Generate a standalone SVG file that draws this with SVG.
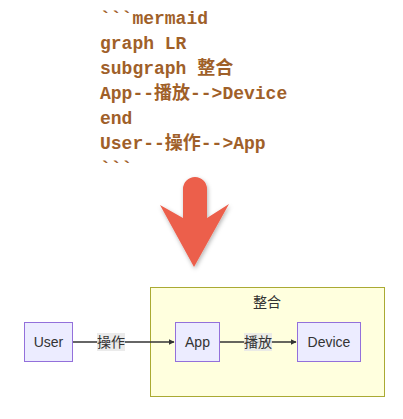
<svg xmlns="http://www.w3.org/2000/svg" width="403" height="419" viewBox="0 0 403 419">
<style>
.code{font-family:"Liberation Mono","Noto Sans CJK SC",monospace;font-weight:bold;font-size:18px;fill:#9f6029}
.node rect{fill:#ECECFF;stroke:#9370DB;stroke-width:1}
.lbl{font-family:"Liberation Sans","Noto Sans CJK SC",sans-serif;font-size:14px;fill:#333;text-anchor:middle;dominant-baseline:central}
.edge{stroke:#333;stroke-width:1.5;fill:none}
.elbl{fill:#e8e8e8;opacity:0.85}
</style>
<defs>
<marker id="ah" viewBox="0 0 10 10" refX="9" refY="5" markerWidth="6" markerHeight="6" orient="auto" markerUnits="userSpaceOnUse">
<path d="M0,0 L10,5 L0,10 z" fill="#333"/>
</marker>
<filter id="sh" x="-30%" y="-30%" width="160%" height="160%">
<feDropShadow dx="1" dy="2" stdDeviation="2" flood-color="#000" flood-opacity="0.3"/>
</filter>
</defs>
<rect width="403" height="419" fill="#fff"/>
<g id="code">
<text class="code" x="100" y="24">```mermaid</text>
<text class="code" x="100" y="49">graph LR</text>
<text class="code" x="100" y="74">subgraph 整合</text>
<text class="code" x="100" y="99">App--播放--&gt;Device</text>
<text class="code" x="100" y="124">end</text>
<text class="code" x="100" y="149">User--操作--&gt;App</text>
<text class="code" x="100" y="174">```</text>
</g>
<g id="bigarrow">
<path d="M183,189 A12,12 0 0 1 207,189 L207,218 L229,204 L194,267 L160,205 L183,218 Z" fill="#ec5f4c" filter="url(#sh)"/>
</g>
<g id="cluster">
<rect x="150.5" y="287.5" width="234" height="109" fill="#ffffde" stroke="#aaaa33" stroke-width="1"/>
<text class="lbl" x="267" y="302">整合</text>
</g>
<g id="connectors">
<path class="edge" d="M73,342 L174,342" marker-end="url(#ah)"/>
<rect class="elbl" x="97" y="333" width="28" height="18"/>
<text class="lbl" x="111" y="342">操作</text>
<path class="edge" d="M219,342 L296,342" marker-end="url(#ah)"/>
<rect class="elbl" x="244" y="333" width="28" height="18"/>
<text class="lbl" x="258" y="342">播放</text>
</g>
<g id="User" class="node">
<rect x="24.5" y="322.5" width="48" height="39"/>
<text class="lbl" x="48.5" y="342">User</text>
</g>
<g id="App" class="node">
<rect x="175.5" y="322.5" width="44" height="39"/>
<text class="lbl" x="197.5" y="342">App</text>
</g>
<g id="Device" class="node">
<rect x="297.5" y="322.5" width="63" height="39"/>
<text class="lbl" x="329" y="342">Device</text>
</g>
</svg>
